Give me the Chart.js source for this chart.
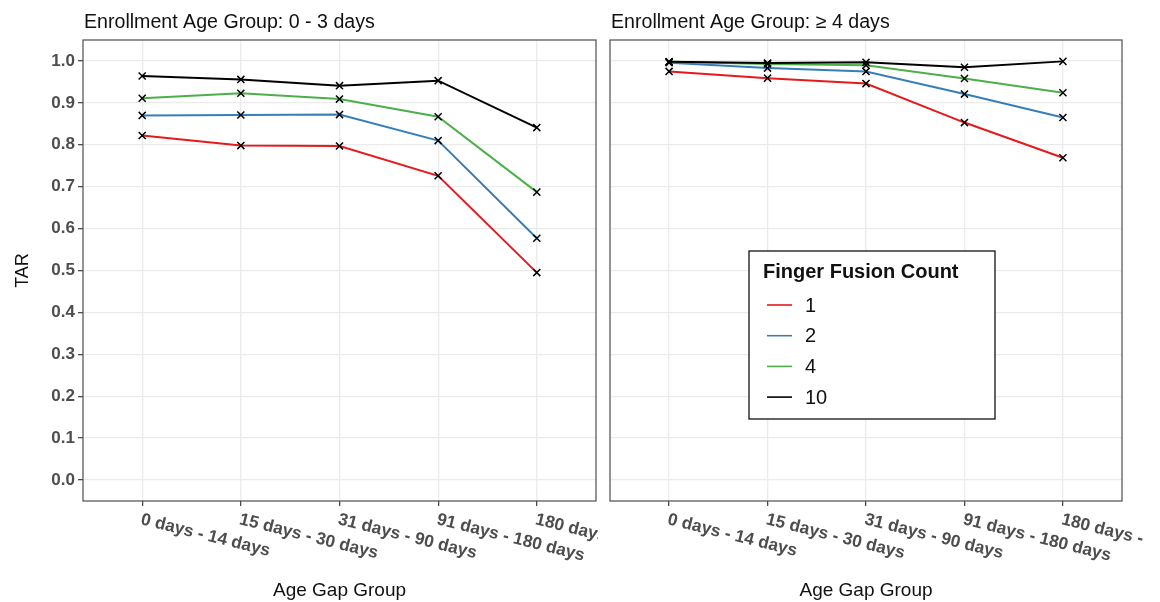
<!DOCTYPE html>
<html><head><meta charset="utf-8">
<script src="https://cdn.jsdelivr.net/npm/chart.js@4"></script>
<style>
html,body{margin:0;padding:0;background:#fff;width:1160px;height:602px;overflow:hidden}
#c1{position:absolute;left:0;top:0}
#c2{position:absolute;left:600px;top:0}
</style></head><body>
<canvas id="c1" width="598" height="602"></canvas>
<canvas id="c2" width="548" height="602"></canvas>
<script>
const categories = ["0 days - 14 days", "15 days - 30 days", "31 days - 90 days", "91 days - 180 days", "180 days -"];
const seriesNames = ["1", "2", "4", "10"];
const seriesColors = ["#E41A1C", "#377EB8", "#4DAF4A", "#000000"];
const panelTitles = ["Enrollment Age Group: 0 - 3 days", "Enrollment Age Group: \u2265 4 days"];
const legendTitle = "Finger Fusion Count";
const xAxisTitle = "Age Gap Group";
const yAxisTitle = "TAR";
const yTicks = [0, 0.1, 0.2, 0.3, 0.4, 0.5, 0.6, 0.7, 0.8, 0.9, 1.0];
const yTickLabels = ["0.0", "0.1", "0.2", "0.3", "0.4", "0.5", "0.6", "0.7", "0.8", "0.9", "1.0"];

// Panel: Enrollment Age Group 0 - 3 days
const left_1  = [0.822, 0.798, 0.797, 0.726, 0.495];
const left_2  = [0.870, 0.871, 0.872, 0.810, 0.577];
const left_4  = [0.911, 0.923, 0.909, 0.867, 0.687];
const left_10 = [0.964, 0.956, 0.941, 0.953, 0.841];
// Panel: Enrollment Age Group >= 4 days
const right_1  = [0.975, 0.959, 0.946, 0.853, 0.769];
const right_2  = [0.996, 0.983, 0.975, 0.921, 0.865];
const right_4  = [0.998, 0.993, 0.990, 0.958, 0.924];
const right_10 = [0.998, 0.995, 0.997, 0.985, 0.999];

const FONT = "'Liberation Sans', Arial, Helvetica, sans-serif";

function makeDatasets(arrs) {
  return arrs.map((arr, k) => ({
    label: seriesNames[k],
    data: arr.map((v, i) => ({x: i, y: v})),
    borderColor: seriesColors[k],
    backgroundColor: seriesColors[k],
    borderWidth: 2,
    pointStyle: 'crossRot',
    pointRadius: 5,
    pointBorderColor: '#000',
    pointBackgroundColor: '#000',
    pointBorderWidth: 1.5,
    tension: 0,
    fill: false,
    order: arrs.length - k
  }));
}

const decorPlugin = {
  id: 'decor',
  afterDatasetsDraw(chart, args, opts) {
    const ctx = chart.ctx, ca = chart.chartArea;
    ctx.save();
    ctx.strokeStyle = '#4d4d4d';
    ctx.lineWidth = 1.2;
    ctx.strokeRect(ca.left, ca.top, ca.right - ca.left, ca.bottom - ca.top);
    ctx.restore();
  },
  afterDraw(chart, args, opts) {
    const ctx = chart.ctx, ca = chart.chartArea;
    const xs = chart.scales.x;
    ctx.save();
    // panel title
    ctx.fillStyle = '#111';
    ctx.font = "19.6px " + FONT;
    ctx.textAlign = 'left';
    ctx.textBaseline = 'alphabetic';
    ctx.fillText(opts.title, ca.left + 1, 28);
    // x tick labels (rotated)
    ctx.fillStyle = '#4D4D4D';
    ctx.font = "bold 17.3px " + FONT;
    categories.forEach((c, i) => {
      const x = xs.getPixelForValue(i);
      ctx.save();
      ctx.translate(x + 1, ca.bottom + 10);
      ctx.rotate(14 * Math.PI / 180);
      ctx.textAlign = 'left';
      ctx.textBaseline = 'top';
      ctx.fillText(c, 0, 0);
      ctx.restore();
    });
    // x axis title
    ctx.fillStyle = '#111';
    ctx.font = "19px " + FONT;
    ctx.textAlign = 'center';
    ctx.textBaseline = 'alphabetic';
    ctx.fillText(xAxisTitle, (ca.left + ca.right) / 2, 596);
    // y axis title
    if (opts.yTitle) {
      ctx.save();
      ctx.translate(28, (ca.top + ca.bottom) / 2);
      ctx.rotate(-Math.PI / 2);
      ctx.font = "18px " + FONT;
      ctx.textAlign = 'center';
      ctx.textBaseline = 'alphabetic';
      ctx.fillText(yAxisTitle, 0, 0);
      ctx.restore();
    }
    // legend
    if (opts.legend) {
      const L = opts.legend;
      ctx.fillStyle = '#fff';
      ctx.fillRect(L.x, L.y, L.w, L.h);
      ctx.strokeStyle = '#111';
      ctx.lineWidth = 1.3;
      ctx.strokeRect(L.x, L.y, L.w, L.h);
      ctx.fillStyle = '#111';
      ctx.font = "bold 20px " + FONT;
      ctx.textAlign = 'left';
      ctx.textBaseline = 'alphabetic';
      ctx.fillText(legendTitle, L.x + 14, L.y + 27);
      chart.data.datasets.forEach((ds, k) => {
        const cy = L.y + 54 + k * 30.7;
        ctx.strokeStyle = ds.borderColor;
        ctx.lineWidth = 1.6;
        ctx.beginPath();
        ctx.moveTo(L.x + 18, cy);
        ctx.lineTo(L.x + 43, cy);
        ctx.stroke();
        ctx.fillStyle = '#111';
        ctx.font = "20px " + FONT;
        ctx.textBaseline = 'middle';
        ctx.fillText(ds.label, L.x + 56, cy + 1);
      });
    }
    ctx.restore();
  }
};

function makeChart(id, arrs, isLeft, padRight, plugOpts) {
  return new Chart(document.getElementById(id), {
    type: 'line',
    data: {datasets: makeDatasets(arrs)},
    options: {
      responsive: false,
      animation: false,
      devicePixelRatio: 1,
      layout: {autoPadding: false, padding: {top: 40, right: padRight, left: 0, bottom: 0}},
      plugins: {legend: {display: false}, tooltip: {enabled: false}, title: {display: false}, decor: plugOpts},
      scales: {
        x: {
          type: 'linear', min: -0.6, max: 4.6,
          afterBuildTicks: s => { s.ticks = categories.map((c, i) => ({value: i})); },
          afterFit: s => { s.height = 101; },
          ticks: {display: false},
          grid: {color: '#EBEBEB', lineWidth: 1.3, tickColor: '#4d4d4d', tickLength: 5, drawTicks: true},
          border: {display: false}
        },
        y: {
          type: 'linear', min: -0.05, max: 1.05,
          afterBuildTicks: s => { s.ticks = yTicks.map(v => ({value: v})); },
          afterFit: s => { s.width = isLeft ? 83 : 10; },
          ticks: {
            display: isLeft,
            callback: (v, i) => yTickLabels[i],
            color: '#4D4D4D',
            font: {family: FONT, size: 17, weight: 'bold'},
            padding: 3
          },
          grid: {color: '#EBEBEB', lineWidth: 1.3, tickColor: '#4d4d4d', tickLength: 5, drawTicks: isLeft},
          border: {display: false}
        }
      }
    },
    plugins: [decorPlugin]
  });
}

makeChart('c1', [left_1, left_2, left_4, left_10], true, 2, {title: panelTitles[0], yTitle: true});
makeChart('c2', [right_1, right_2, right_4, right_10], false, 26,
  {title: panelTitles[1], yTitle: false, legend: {x: 149, y: 251, w: 246, h: 168}});
</script>
</body></html>
